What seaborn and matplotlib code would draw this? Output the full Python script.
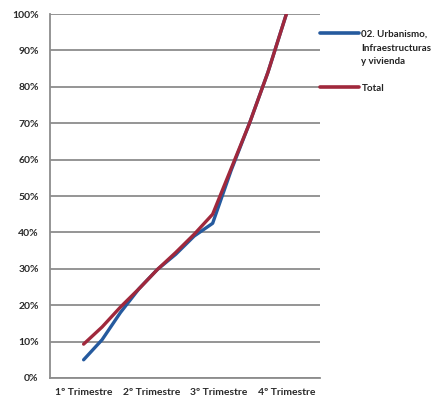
import numpy as np
import pandas as pd
import matplotlib
matplotlib.use("Agg")
import matplotlib.pyplot as plt
import seaborn as sns
from matplotlib.ticker import PercentFormatter

# ---- data (monthly cumulative %) ----
months = list(range(1, 13))
urbanismo = [5.0, 10.5, 18.0, 24.5, 29.8, 34.0, 39.0, 42.5, 57.0, 70.0, 84.0, 100.0]
total = [9.3, 14.0, 19.5, 24.5, 29.8, 34.5, 39.5, 45.0, 57.5, 70.0, 84.0, 100.0]
series_names = ["02. Urbanismo,\nInfraestructuras\ny vivienda", "Total"]
quarter_labels = ["1º Trimestre", "2º Trimestre", "3º Trimestre", "4º Trimestre"]
y_ticks = [0, 10, 20, 30, 40, 50, 60, 70, 80, 90, 100]

df = pd.DataFrame({
    "mes": months * 2,
    "valor": urbanismo + total,
    "serie": [series_names[0]] * len(months) + [series_names[1]] * len(months),
})

sns.set_theme(style="white")
plt.rcParams["font.family"] = ["Lato", "DejaVu Sans"]

fig = plt.figure(figsize=(4.41, 4.01), dpi=100)
ax = fig.add_axes([0.113, 0.0574, 0.613, 0.9076])

# horizontal gridlines
ax.set_axisbelow(True)
ax.yaxis.grid(True, color="#8c8c8c", linewidth=1.3)
ax.xaxis.grid(False)

sns.lineplot(data=df, x="mes", y="valor", hue="serie", hue_order=series_names,
             palette=["#255a9e", "#a0283c"], linewidth=2.4, ax=ax, legend=True,
             sort=False)

# category axis: 4 quarters over the 12 months
n = len(months)
q = len(quarter_labels)
width = (n - 1) / (q - 1)
centers = [months[0] + i * width for i in range(q)]
bounds = [months[0] - width / 2 + i * width for i in range(q + 1)]
ax.set_xlim(bounds[0], bounds[-1])
ax.set_xticks(centers)
ax.set_xticklabels(quarter_labels)
ax.set_xticks(bounds, minor=True)
ax.tick_params(axis="x", which="major", length=0, pad=7)
ax.tick_params(axis="x", which="minor", length=4, width=1.0, color="#8c8c8c",
               direction="inout")

ax.set_ylim(0, 100)
ax.set_yticks(y_ticks)
ax.yaxis.set_major_formatter(PercentFormatter(decimals=0))
ax.tick_params(axis="y", length=4, width=1.0, color="#8c8c8c", direction="out", pad=4)

for lab in ax.get_xticklabels() + ax.get_yticklabels():
    lab.set_fontsize(7.5)
    lab.set_fontweight("bold")
    lab.set_color("#2a2a2a")

ax.set_xlabel("")
ax.set_ylabel("")

for side in ["top", "right"]:
    ax.spines[side].set_visible(False)
for side in ["left", "bottom"]:
    ax.spines[side].set_color("#8c8c8c")
    ax.spines[side].set_linewidth(1.3)

leg = ax.legend(loc="upper left", bbox_to_anchor=(1.0, 0.957), frameon=False,
                prop={"size": 7, "weight": "bold"},
                handlelength=4.0, handletextpad=0.25,
                labelspacing=1.8, borderaxespad=0.0, borderpad=0.0)
for t in leg.get_texts():
    t.set_color("#222222")
    t.set_linespacing(1.7)
for h in leg.get_lines():
    h.set_linewidth(2.6)
# align each handle with the first line of its label
for col in leg._legend_handle_box.get_children():
    for item in col.get_children():
        item.align = "top"

fig.savefig("out.png", dpi=100)
